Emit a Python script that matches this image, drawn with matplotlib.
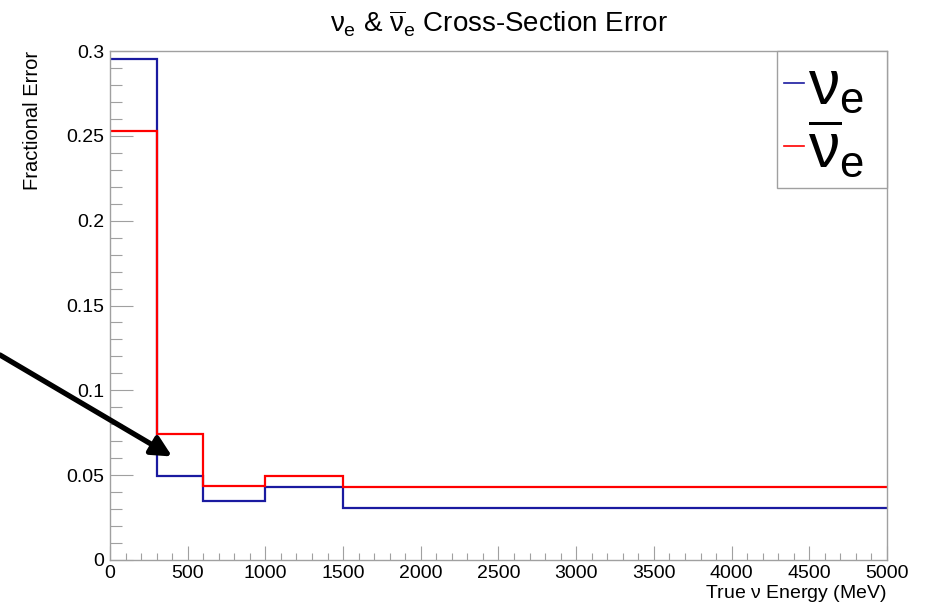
import numpy as np
import matplotlib.pyplot as plt
from matplotlib.ticker import MultipleLocator

plt.rcParams['font.family'] = ['Liberation Sans', 'DejaVu Sans']
plt.rcParams['mathtext.fontset'] = 'custom'
plt.rcParams['mathtext.rm'] = 'Liberation Sans'
plt.rcParams['mathtext.it'] = 'Liberation Sans'
plt.rcParams['mathtext.bf'] = 'Liberation Sans:bold'

# bin edges (MeV) and fractional errors per bin
edges = [0, 300, 600, 1000, 1500, 5000]
nue_err = [0.295, 0.0495, 0.0350, 0.0430, 0.0305]
nuebar_err = [0.253, 0.0742, 0.0436, 0.0497, 0.0430]

# arrow pointing into the 300-600 MeV bin
arrow_tip = (400, 0.061)

grey = '#a0a0a0'

fig = plt.figure(figsize=(9.28, 6.05), dpi=100)
ax = fig.add_axes([110/928, 45/605, 777/928, 509/605])

ax.stairs(nue_err, edges, baseline=None, color='#1a1aa0', lw=1.6, label=r'$\nu_e$')
ax.stairs(nuebar_err, edges, baseline=None, color='#ff0000', lw=1.6,
          label=r'$\overline{\nu}_e$')

ax.set_xlim(0, 5000)
ax.set_ylim(0, 0.3)

ax.xaxis.set_major_locator(MultipleLocator(500))
ax.xaxis.set_minor_locator(MultipleLocator(100))
ax.yaxis.set_major_locator(MultipleLocator(0.05))
ax.yaxis.set_minor_locator(MultipleLocator(0.01))
ax.set_yticks([0, 0.05, 0.1, 0.15, 0.2, 0.25, 0.3])
ax.set_yticklabels(['0', '0.05', '0.1', '0.15', '0.2', '0.25', '0.3'])

ax.tick_params(which='both', direction='in', color=grey, width=0.8, labelsize=14)
ax.tick_params(axis='x', which='major', length=10, pad=3.5)
ax.tick_params(axis='x', which='minor', length=5)
ax.tick_params(axis='y', which='major', length=16.5, pad=4)
ax.tick_params(axis='y', which='minor', length=8.5)
for s in ax.spines.values():
    s.set_color(grey)
    s.set_linewidth(1.0)

ax.set_title(r'$\nu_e$ & $\overline{\nu}_e$ Cross-Section Error', fontsize=20, pad=13)
ax.set_ylabel('Fractional Error', fontsize=14.5, loc='top')
ax.yaxis.set_label_coords(-0.088, 1.0)
ax.set_xlabel(r'True $\nu$ Energy (MeV)', fontsize=14, loc='right', va='bottom')
ax.xaxis.set_label_coords(1.0, -44/509)

leg = ax.legend(loc='upper left', bbox_to_anchor=(667/777, 1 - 131/509, 110/777, 131/509),
                mode='expand', borderaxespad=0,
                fontsize=45, handlelength=0.32, handletextpad=0.05,
                borderpad=0.12, labelspacing=0.02, fancybox=False, framealpha=1)
leg.get_frame().set_edgecolor(grey)
leg.get_frame().set_linewidth(1.0)
for h in leg.get_lines():
    h.set_linewidth(1.2)

ax.annotate('', xy=arrow_tip, xycoords='data',
            xytext=(0, 250), textcoords='figure pixels',
            arrowprops=dict(arrowstyle='-|>', lw=3.8, color='black',
                            mutation_scale=30, shrinkA=0, shrinkB=0),
            annotation_clip=False)

fig.savefig('out.png', dpi=100)
